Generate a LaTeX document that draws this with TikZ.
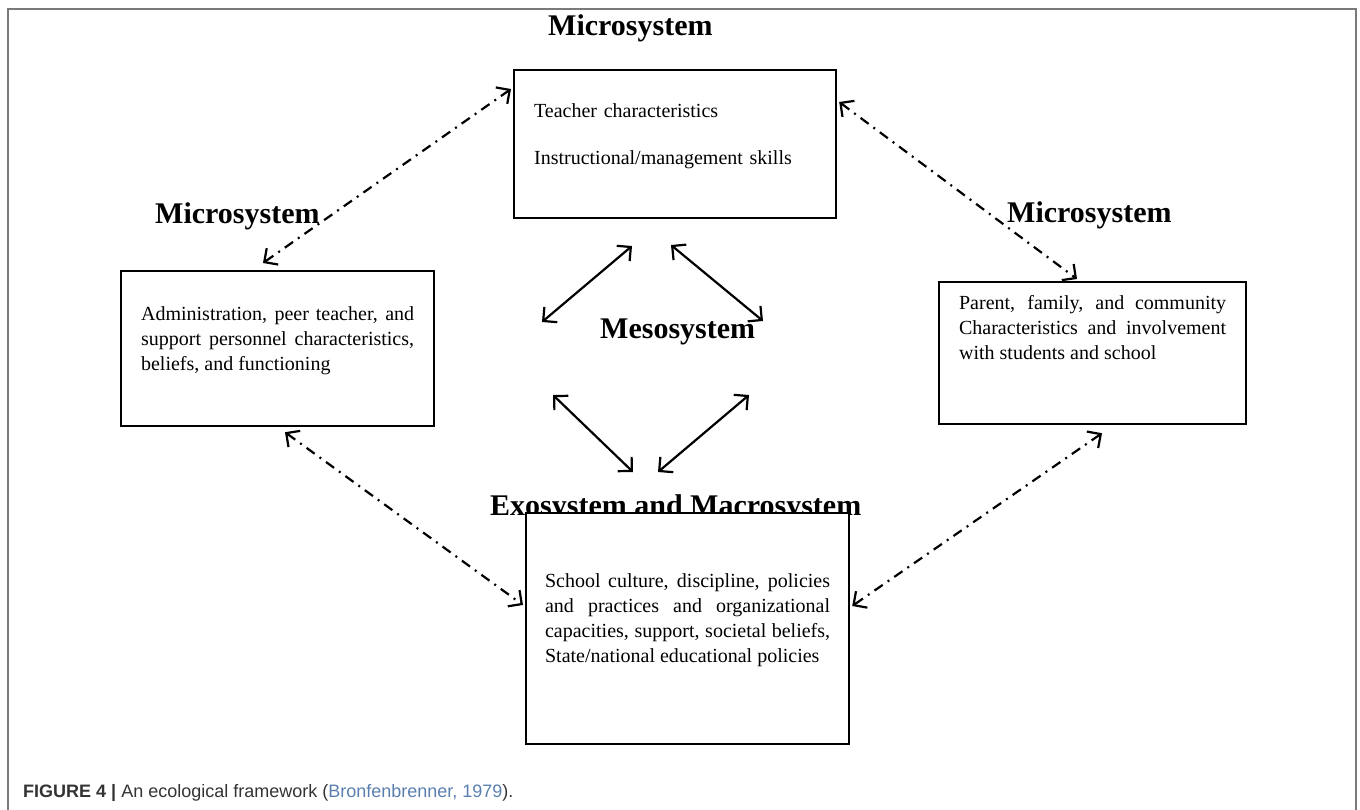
\documentclass[tikz,border=0pt]{standalone}
\usepackage{fontspec}
\setmainfont{Liberation Serif}
\newfontfamily\capfont{Liberation Sans}
\usetikzlibrary{arrows.meta, positioning, calc}
\definecolor{framegray}{HTML}{7A7A7A}
\definecolor{captext}{HTML}{333333}
\definecolor{citeblue}{HTML}{5A7FAE}
\tikzset{
  sysbox/.style={draw=black,line width=2.2pt,fill=white,anchor=north west,inner xsep=20pt,inner ysep=0pt,font=\fontsize{20}{25}\selectfont,align=justify},
  syshead/.style={anchor=base west,inner sep=0pt,font=\fontsize{30}{36}\selectfont\bfseries},
  mesolink/.style={line width=2.2pt,{Straight Barb[length=10pt,width=20pt]}-{Straight Barb[length=10pt,width=20pt]}},
  microlink/.style={mesolink,dash pattern=on 10pt off 6pt on 2pt off 6pt},
}

\begin{document}
\begin{tikzpicture}[x=1pt,y=-1pt]
	    \useasboundingbox (0,0) rectangle (1360,810);
	    \draw[framegray,line width=2pt] (7.5,810) -- (7.5,9) -- (1356,9) -- (1356,810);
	    % headings
	    \node[syshead] (topmicro) at (548,36) {Microsystem};
	    \node[syshead] (leftmicro) at (155,224) {Microsystem};
	    \node[syshead] (rightmicro) at (1007,223) {Microsystem};
	    \node[syshead] (meso) at (600,338) {Mesosystem};
	    \node[syshead] (exomacro) at (490,515) {Exosystem and Macrosystem};
	    % systems
	    \node[sysbox,text width=282pt,align=left,text height=47pt,text depth=101pt] (teacher) at (513,69) {Teacher characteristics\\[22pt]Instructional/management skills};
	    \node[sysbox,text width=273pt,text height=49pt,text depth=106pt] (admin) at (120,270) {Administration, peer teacher, and\linebreak support personnel characteristics,\linebreak beliefs, and functioning};
	    \node[sysbox,text width=267pt,text height=27pt,text depth=115pt] (parent) at (938,281) {Parent, family, and community\linebreak Characteristics and involvement\linebreak with students and school};
	    \node[sysbox,text width=285pt,inner xsep=19pt,text height=74pt,text depth=157pt] (school) at (525,512) {School culture, discipline, policies\linebreak and practices and organizational\linebreak capacities, support, societal beliefs,\linebreak State/national educational policies};
	    % microsystem links
	    \draw[microlink] ($(admin.north west)+(143,-7)$) -- ($(teacher.north west)+(-2,20)$);
	    \draw[microlink] ($(teacher.north east)+(2,33)$) -- ($(parent.north west)+(139,-2)$);
	    \draw[microlink] ($(admin.south west)+(165,5)$) -- ($(school.north west)+(-2,93)$);
	    \draw[microlink] ($(parent.south west)+(164,8)$) -- ($(school.north east)+(2,94)$);
	    % mesosystem
	    \coordinate (nwa) at (542,322);
	    \coordinate (nwb) at (632,246);
	    \coordinate (nea) at (671,245);
	    \coordinate (neb) at (763,321);
	    \coordinate (swa) at (553,395);
	    \coordinate (swb) at (633,472);
	    \coordinate (sea) at (658,472);
	    \coordinate (seb) at (749,395);
	    \draw[mesolink] (nwa) -- (nwb);
	    \draw[mesolink] (nea) -- (neb);
	    \draw[mesolink] (swa) -- (swb);
	    \draw[mesolink] (sea) -- (seb);
	    \node[anchor=base west,inner sep=0pt,font=\capfont\fontsize{18}{22}\selectfont,text=captext] (caption) at (23,797) {\textbf{FIGURE 4 |} An ecological framework ({\color{citeblue}Bronfenbrenner, 1979}).};
	\end{tikzpicture}
\end{document}
